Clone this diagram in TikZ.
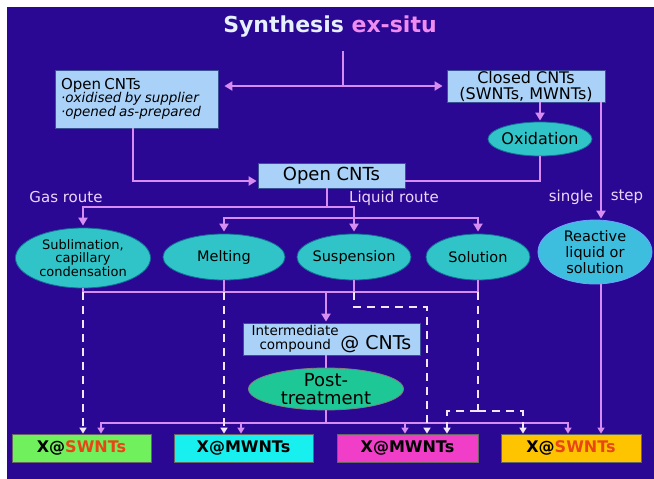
\documentclass[tikz,border=0pt]{standalone}
\usepackage{fontspec}
\setmainfont{DejaVu Sans}
\usetikzlibrary{arrows.meta,shapes.geometric}

\definecolor{bg}{RGB}{42,8,148}
\definecolor{lineP}{RGB}{214,140,240}
\definecolor{dashW}{RGB}{242,230,255}
\definecolor{boxBlue}{RGB}{170,210,248}
\definecolor{boxEdge}{RGB}{60,80,150}
\definecolor{ellCyan}{RGB}{48,196,200}
\definecolor{ellEdge}{RGB}{20,110,150}
\definecolor{ellReact}{RGB}{62,190,222}
\definecolor{reactEdge}{RGB}{110,160,255}
\definecolor{postGreen}{RGB}{30,200,150}
\definecolor{bGreen}{RGB}{112,240,92}
\definecolor{bCyan}{RGB}{24,240,240}
\definecolor{bMagenta}{RGB}{240,62,200}
\definecolor{bOrange}{RGB}{255,196,0}
\definecolor{swnt}{RGB}{232,70,20}
\definecolor{titleW}{RGB}{230,240,255}
\definecolor{titleP}{RGB}{240,140,240}
\definecolor{routeC}{RGB}{238,214,250}

\tikzset{
  pline/.style={draw=lineP, line width=2.6pt},
  thinline/.style={draw=lineP, line width=1.6pt},
  arr/.style={pline, -{Triangle[length=8pt,width=9pt]}, shorten >=1pt},
  barr/.style={pline, line width=2.2pt, -{Triangle[length=6pt,width=7pt]}},
  dline/.style={draw=dashW, line width=2.2pt, dash pattern=on 8pt off 6pt},
  darr/.style={dline, -{Triangle[length=6pt,width=7pt]}},
  lbox/.style={draw=boxEdge, line width=0.8pt, fill=boxBlue, inner sep=0pt, text=black},
  cell/.style={ellipse, draw=ellEdge, line width=0.8pt, fill=ellCyan, inner sep=0pt},
  lbl/.style={inner sep=0pt, align=center, text=black},
  xbox/.style={draw=black!60, line width=0.8pt, inner sep=0pt, minimum width=139, minimum height=28,
    font=\fontsize{16}{18}\selectfont\bfseries, text=black},
  route/.style={text=routeC, font=\fontsize{15}{17}\selectfont, inner sep=0pt}
}

\begin{document}
\begin{tikzpicture}[x=1pt,y=-1pt]
\useasboundingbox (0,0) rectangle (654,479);
\fill[white] (0,0) rectangle (654,479);
\fill[bg] (7,7) rectangle (654,479);

% title
\node[font=\fontsize{22}{24}\selectfont\bfseries, inner sep=0pt] (title) at (330,27)
  {\textcolor{titleW}{Synthesis} \textcolor{titleP}{ex-situ}};

% starting materials
\node[lbox, minimum width=163, minimum height=58, text width=151, align=left] (open1) at (136.5,99)
  {{\fontsize{15}{18}\selectfont Open CNTs}\\[-1pt]
   {\fontsize{13.5}{15}\selectfont\itshape ·oxidised by supplier}\\
   {\fontsize{13.5}{15}\selectfont\itshape ·opened as-prepared}};
\node[lbox, minimum width=158, minimum height=32, align=center, font=\fontsize{16}{16}\selectfont] (closed) at (526,86)
  {Closed CNTs\\(SWNTs, MWNTs)};
\node[cell, minimum width=104, minimum height=34,
  label={[lbl, font=\fontsize{16}{18}\selectfont]center:Oxidation}] (oxid) at (540,139) {};
\node[lbox, minimum width=147, minimum height=25, font=\fontsize{18}{20}\selectfont] (mid) at (331.5,175.5) {Open CNTs};

% route labels
\node[route] (gas) at (66,197) {Gas route};
\node[route] (liq) at (394,198) {Liquid route};
\node[route] (single) at (571,197) {single};
\node[route] (step1) at (627,197) {step};

% processes
\node[cell, minimum width=135, minimum height=60,
  label={[lbl, font=\fontsize{13}{13.5}\selectfont]center:{Sublimation,\\capillary\\condensation}}] (subl) at (83,258) {};
\node[cell, minimum width=122, minimum height=46,
  label={[lbl, font=\fontsize{14.5}{16}\selectfont]center:Melting}] (melt) at (224,257) {};
\node[cell, minimum width=114, minimum height=46,
  label={[lbl, font=\fontsize{14.5}{16}\selectfont]center:Suspension}] (susp) at (354,257) {};
\node[cell, minimum width=104, minimum height=46,
  label={[lbl, font=\fontsize{14.5}{16}\selectfont]center:Solution}] (solu) at (478,257) {};
\node[cell, fill=ellReact, draw=reactEdge, minimum width=114, minimum height=64,
  label={[lbl, font=\fontsize{14.5}{16}\selectfont]center:{Reactive\\liquid or\\solution}}] (react) at (595,252) {};

% intermediate and post-treatment
\node[lbox, minimum width=177, minimum height=32] (inter) at (331.5,339)
  {{\fontsize{13.5}{13}\selectfont\shortstack{Intermediate\\compound}}\,{\fontsize{19}{20}\selectfont @ CNTs}};
\node[ellipse, draw=black!50, line width=0.8pt, fill=postGreen, inner sep=0pt, minimum width=155, minimum height=42,
  label={[lbl, font=\fontsize{18}{18.5}\selectfont]center:{Post-\\treatment}}] (post) at (326,389) {};

% products
\node[xbox, fill=bGreen] (green) at (81.5,448) {X@\textcolor{swnt}{SWNTs}};
\node[xbox, fill=bCyan] (cyan) at (243.5,448) {X@MWNTs};
\node[xbox, fill=bMagenta, minimum width=141] (magenta) at (407.5,448) {X@MWNTs};
\node[xbox, fill=bOrange, minimum width=140] (orange) at (571,448) {X@\textcolor{swnt}{SWNTs}};

% junction points
\coordinate (ttop) at (343,51);
\coordinate (tj) at (343,86);
\coordinate (sx) at (601,0);
\coordinate (jr) at (327,207);
\coordinate (lr) at (354,218);
\coordinate (c1) at (326,292);
\coordinate (c2) at (326,423);
\coordinate (dk) at (427,307);
\coordinate (dt) at (478,411);
\coordinate (dl) at (447,0);
\coordinate (dr) at (523,0);

% top split
\draw[pline] (ttop) -- (tj);
\draw[pline, {Triangle[length=8pt,width=9pt]}-{Triangle[length=8pt,width=9pt]}, shorten <=6pt, shorten >=4pt]
  (open1.east |- tj) -- (closed.west |- tj);
\draw[arr] (closed.south -| oxid.north) -- (oxid.north);
\draw[arr] (closed.south -| sx) -- (react.north -| sx);
\draw[arr] ([xshift=-3.5pt]open1.south) |- ([yshift=-5.5pt]mid.west);
\draw[pline] (oxid.south) |- ([yshift=-5.5pt]mid.east);

% gas and liquid routes
\draw[pline] (mid.south -| jr) -- (jr);
\draw[arr, shorten >=2pt] (jr) -| (subl.north);
\draw[arr, shorten >=2pt] (jr) -| (susp.north);
\draw[arr, shorten >=2pt] (lr) -| (melt.north);
\draw[arr, shorten >=2pt] (lr) -| (solu.north);

% collecting line
\draw[pline] (subl.south) |- (solu.south |- c1) -- (solu.south);
\draw[pline] (melt.south) -- (melt.south |- c1);
\draw[pline] (susp.south) -- (susp.south |- c1);
\draw[arr] (c1) -- (c1 |- inter.north);
\draw[thinline] (post.north |- inter.south) -- (post.north);
\draw[thinline] (post.south) -- (c2);

% distribution to products
\draw[barr] (c2) -| ([xshift=19.5pt]green.north);
\draw[barr] (c2) -| ([xshift=-2.5pt]cyan.north);
\draw[barr] (c2) -| ([xshift=-2.5pt]magenta.north);
\draw[barr] (c2) -| ([xshift=-3pt]orange.north);
\draw[barr] (react.south -| sx) -- (orange.north -| sx);

% direct (dashed) routes
\draw[darr] (subl.south |- c1) -- (subl.south |- green.north);
\draw[darr] (melt.south |- c1) -- (melt.south |- cyan.north);
\draw[darr] (susp.south |- c1) |- (dk) -- (dk |- magenta.north);
\draw[dline] (solu.south |- c1) -- (dt);
\draw[darr] (dt) -| (dl |- magenta.north);
\draw[darr] (dt) -| (dr |- orange.north);
\end{tikzpicture}
\end{document}
